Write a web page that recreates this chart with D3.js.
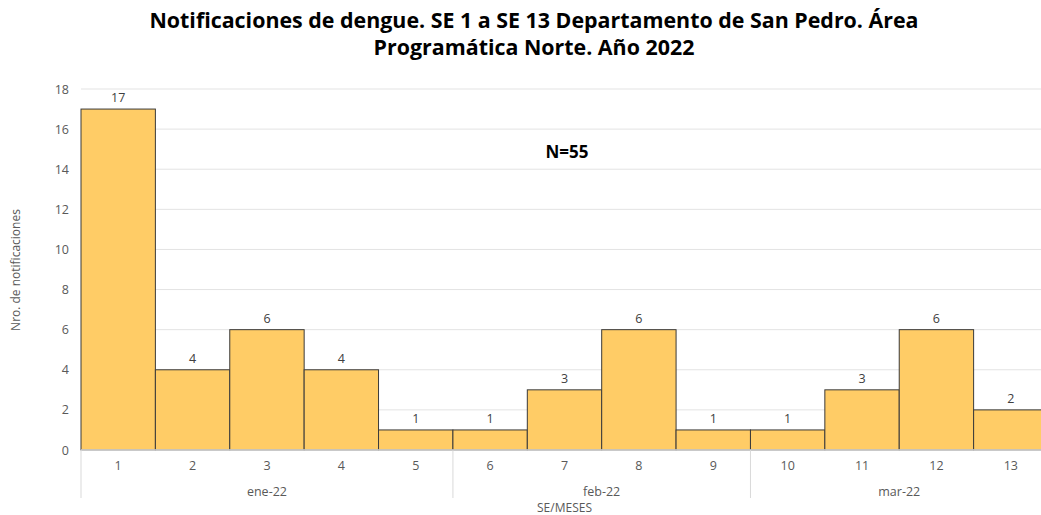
<!DOCTYPE html>
<html><head><meta charset="utf-8">
<script src="https://cdn.jsdelivr.net/npm/d3@7"></script>
<style>body{margin:0;background:#fff}svg{display:block}text{font-family:"Open Sans","Noto Sans",sans-serif}</style>
</head><body><svg id="c" width="1041" height="515"></svg>
<script>
const weeks = ["1","2","3","4","5","6","7","8","9","10","11","12","13"];
const values = [17,4,6,4,1,1,3,6,1,1,3,6,2];
const months = ["ene-22","feb-22","mar-22"];
const monthWeeks = [[0,4],[5,8],[9,12]];
const yTicks = [0,2,4,6,8,10,12,14,16,18];

const svg = d3.select("#c");
const L = 81, R = 1048, T = 89, B = 450;
const x = d3.scaleBand().domain(weeks).range([L, R]).padding(0);
const y = d3.scaleLinear().domain([0, 18]).range([B, T]);

// gridlines
svg.append("g").selectAll("line").data(yTicks.filter(d=>d>0)).join("line")
  .attr("x1", L).attr("x2", R).attr("y1", d=>y(d)).attr("y2", d=>y(d))
  .attr("stroke", "#e3e3e3").attr("stroke-width", 1);

// y axis labels
const ya = svg.append("g").attr("transform", `translate(${L},0)`)
  .call(d3.axisLeft(y).tickValues(yTicks).tickSize(0).tickPadding(12));
ya.select(".domain").remove();
ya.selectAll("text").attr("font-size", 12.5).attr("fill", "#595959").style("font-family", '"Open Sans","Noto Sans",sans-serif');

// bars
svg.append("g").selectAll("rect").data(values).join("rect")
  .attr("x", (d,i)=>x(weeks[i])).attr("width", x.bandwidth())
  .attr("y", d=>y(d)).attr("height", d=>B - y(d))
  .attr("fill", "#FFCC66").attr("stroke", "#3a3a3a").attr("stroke-width", 1);

// value labels
svg.append("g").selectAll("text").data(values).join("text")
  .attr("x", (d,i)=>x(weeks[i]) + x.bandwidth()/2).attr("y", d=>y(d) - 7)
  .attr("text-anchor", "middle").attr("font-size", 12.5).attr("fill", "#404040").text(d=>d);

// x axis baseline
svg.append("line").attr("x1", L).attr("x2", R).attr("y1", B).attr("y2", B)
  .attr("stroke", "#d9d9d9").attr("stroke-width", 1.5);

// x tick labels
const xa = svg.append("g").attr("transform", `translate(0,${B})`)
  .call(d3.axisBottom(x).tickSize(0).tickPadding(11));
xa.select(".domain").remove();
xa.selectAll("text").attr("font-size", 12.5).attr("fill", "#595959").style("font-family", '"Open Sans","Noto Sans",sans-serif');

// month separators
const seps = [x(weeks[0]), x(weeks[5]), x(weeks[9])];
svg.append("g").selectAll("line").data(seps).join("line")
  .attr("x1", d=>d).attr("x2", d=>d).attr("y1", B).attr("y2", 498)
  .attr("stroke", "#d9d9d9").attr("stroke-width", 1);

// month labels
svg.append("g").selectAll("text").data(months).join("text")
  .attr("x", (d,i)=>(x(weeks[monthWeeks[i][0]]) + x(weeks[monthWeeks[i][1]]) + x.bandwidth())/2)
  .attr("y", 496).attr("text-anchor", "middle").attr("font-size", 12.5).attr("fill", "#595959").text(d=>d);

// axis titles
svg.append("text").attr("x", (L+R)/2).attr("y", 512).attr("text-anchor", "middle")
  .attr("font-size", 12).attr("fill", "#595959").text("SE/MESES");
svg.append("text").attr("transform", "translate(20,270) rotate(-90)").attr("text-anchor", "middle")
  .attr("font-size", 12).attr("fill", "#595959").text("Nro. de notificaciones");

// title
const title = svg.append("text").attr("text-anchor", "middle").attr("font-weight", "bold")
  .attr("font-size", 21.4).attr("fill", "#000");
title.append("tspan").attr("x", 534).attr("y", 28).text("Notificaciones de dengue. SE 1 a SE 13 Departamento de San Pedro. Área");
title.append("tspan").attr("x", 534).attr("y", 55).text("Programática Norte. Año 2022");

// N label
svg.append("text").attr("x", 567).attr("y", 158).attr("text-anchor", "middle").attr("font-weight", "bold")
  .attr("font-size", 17).attr("fill", "#000").text("N=55");
</script></body></html>
